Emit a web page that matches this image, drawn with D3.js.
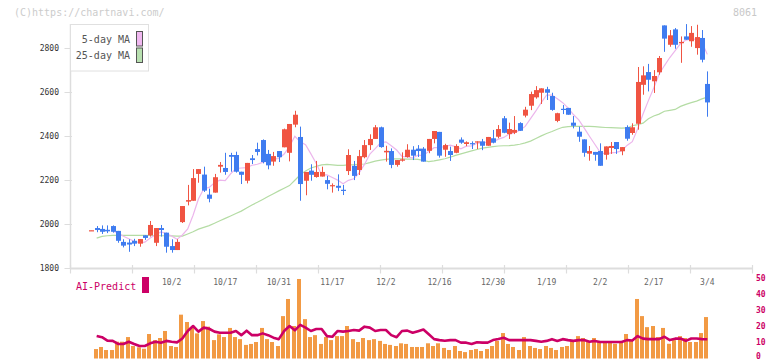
<!DOCTYPE html>
<html><head><meta charset="utf-8">
<script src="https://cdn.jsdelivr.net/npm/d3@7/dist/d3.min.js"></script>
<style>
body{margin:0;background:#fff}
svg{display:block}
text{font-family:"DejaVu Sans Mono","Liberation Mono",monospace}
</style>
</head><body>
<svg id="chart" width="772" height="361"></svg>
<script>
// ---- data ----
const openP  = [1972,1983,1979,1975,1992,1970,1920,1917,1925,1912,1950,1950,1916,1983,1962,1901,1883,2010,2103,2107,2229,2226,2135,2144,2262,2256,2315,2315,2239,2198,2300,2342,2383,2320,2285,2333,2350,2325,2453,2397,2198,2244,2215,2217,2201,2177,2175,2157,2242,2266,2247,2305,2360,2388,2441,2327,2333,2270,2289,2306,2339,2344,2344,2334,2388,2420,2339,2333,2325,2385,2365,2369,2374,2377,2357,2391,2398,2482,2410,2416,2460,2494,2539,2577,2598,2614,2583,2470,2525,2529,2462,2421,2386,2321,2329,2333,2316,2347,2374,2332,2442,2415,2457,2634,2692,2650,2691,2904,2816,2886,2823,2854,2832,2801,2847,2638];
const highP  = [1973,1992,1995,1995,1995,1970,1932,1932,1934,1933,1950,2015,1983,1997,1962,1932,1932,2083,2179,2251,2251,2262,2162,2229,2283,2325,2325,2330,2239,2279,2315,2371,2386,2338,2329,2333,2435,2456,2516,2444,2238,2273,2288,2262,2220,2186,2227,2179,2341,2288,2338,2383,2409,2451,2444,2357,2345,2292,2327,2364,2355,2360,2351,2388,2424,2420,2366,2353,2364,2395,2377,2377,2377,2388,2397,2429,2451,2492,2462,2492,2464,2534,2603,2628,2618,2625,2598,2507,2542,2529,2492,2444,2386,2356,2329,2368,2354,2374,2374,2351,2450,2459,2715,2718,2729,2701,2765,2904,2883,2892,2854,2910,2901,2907,2883,2695];
const lowP   = [1972,1964,1956,1960,1962,1916,1895,1875,1901,1898,1929,1944,1901,1944,1871,1871,1883,2006,2086,2107,2189,2147,2100,2144,2235,2225,2239,2235,2183,2186,2274,2313,2277,2250,2266,2283,2350,2286,2441,2107,2132,2198,2212,2217,2159,2144,2151,2133,2224,2201,2224,2300,2338,2388,2348,2285,2255,2262,2285,2303,2292,2306,2285,2323,2368,2303,2307,2288,2323,2366,2355,2342,2342,2337,2357,2368,2391,2414,2388,2410,2424,2486,2519,2571,2547,2565,2516,2464,2501,2498,2436,2375,2307,2289,2289,2266,2294,2320,2320,2314,2380,2407,2430,2589,2604,2597,2680,2784,2807,2798,2734,2839,2807,2771,2736,2489];
const closeP = [1973,1974,1966,1968,1966,1925,1903,1908,1912,1933,1938,1997,1983,1974,1898,1883,1920,2083,2110,2210,2251,2153,2116,2214,2270,2238,2307,2239,2225,2279,2292,2329,2283,2268,2310,2305,2432,2456,2498,2183,2238,2225,2238,2238,2184,2178,2166,2156,2315,2220,2310,2360,2388,2441,2351,2334,2270,2292,2295,2339,2312,2333,2285,2388,2424,2312,2360,2315,2356,2371,2373,2368,2377,2357,2397,2371,2433,2416,2433,2429,2425,2521,2592,2610,2618,2598,2520,2505,2524,2498,2448,2398,2325,2333,2316,2266,2354,2356,2342,2351,2389,2441,2647,2677,2657,2674,2756,2844,2859,2816,2829,2839,2870,2851,2748,2554];
const ma25 = [null,1937,1945,1948,1950,1950,1950,1950,1950,1950,1950,1949,1949,1948,1948,1947,1946,1946,1956,1966,1978,1986,1994,2005,2016,2027,2038,2049,2060,2074,2088,2100,2113,2126,2139,2152,2164,2176,2200,2225,2242,2256,2263,2270,2272,2270,2268,2268,2270,2271,2273,2274,2280,2287,2292,2295,2297,2297,2297,2296,2296,2295,2290,2285,2288,2293,2298,2305,2313,2320,2327,2334,2340,2346,2350,2353,2356,2357,2358,2360,2364,2370,2378,2390,2402,2413,2422,2432,2441,2444,2445,2445,2445,2445,2444,2442,2440,2439,2438,2437,2438,2448,2453,2460,2480,2492,2501,2514,2518,2522,2536,2545,2553,2560,2570,2578];
const volume = [null,5.9,7.2,5.3,5.3,10.5,10.5,13.4,7.8,7.0,6.1,15.3,11.5,12.8,17.2,7.8,7.2,27.4,22.8,19.5,15.7,23.4,19.9,11.5,15.1,13.4,19.1,13.4,12.1,8.5,9.1,10.3,19.1,12.1,10.3,7.8,26.5,37.2,20.3,49.7,24.6,13.4,14.6,9.1,13.4,11.5,14.0,14.0,20.3,12.1,10.3,12.8,11.5,12.1,11.0,9.1,8.5,7.8,9.5,9.1,7.2,7.2,7.2,9.5,7.8,9.5,6.6,5.3,7.8,4.7,4.0,5.3,5.9,4.7,5.9,7.8,11.0,15.9,9.1,7.2,5.3,13.4,7.8,6.6,5.9,7.8,6.6,5.3,7.2,7.8,11.5,14.0,12.8,10.3,12.8,10.3,10.3,10.3,9.2,10.3,15.3,11.5,37.2,26.5,19.6,20.3,13.4,19.1,9.2,11.5,14.0,12.8,10.3,10.3,15.9,25.9];
const aiPredict = [null,14.1,13.3,11.2,11.0,9.1,9.1,10.5,9.1,7.8,7.8,9.5,10.5,9.9,11.0,10.5,10.1,12.5,17.2,20.3,16.8,19.3,18.6,16.8,16.1,16.1,16.1,17.2,14.6,17.4,14.6,14.6,15.7,14.6,13.0,12.1,17.2,20.3,17.6,21.0,19.3,17.2,18.4,18.4,14.0,13.6,17.2,16.8,17.2,17.8,17.4,19.9,19.3,17.2,17.8,17.8,14.6,13.3,17.2,17.4,16.1,17.1,18.1,15.1,12.1,11.5,11.1,11.5,11.5,9.9,9.9,9.1,10.2,9.9,9.9,11.5,12.2,13.0,11.5,11.5,11.5,11.5,11.5,11.0,10.5,11.0,12.1,11.0,12.1,11.5,11.0,11.5,11.5,10.5,11.0,10.3,10.3,10.3,10.3,10.3,11.5,11.2,14.0,12.4,12.1,12.1,12.1,13.6,11.5,12.4,12.5,11.0,12.5,12.5,12.1,12.0];
const dateLabels = ["10/2","10/17","10/31","11/17","12/2","12/16","12/30","1/19","2/2","2/17","3/4"];
const dateLabelIdx = [15,25,35,45,55,65,75,85,95,105,115];
const priceTicks = [1800,2000,2200,2400,2600,2800];
const subTicks = [0,10,20,30,40,50];
const legendNames = ["5-day MA","25-day MA"];

// ---- derived: 5-day moving average of closes ----
const ma5 = closeP.map((c,i)=> i<4 ? null : d3.mean(closeP.slice(i-4,i+1)));

const svg = d3.select("#chart");
const N = closeP.length;
const x = d3.scaleLinear().domain([0, N-1]).range([91.3, 707.3]);
const y = d3.scaleLinear().domain([1800, 2800]).range([268.3, 48.3]);
const yv = d3.scaleLinear().domain([0, 50]).range([358.5, 278.5]);
const xt = d3.scaleLinear().domain([0, 11]).range([70.5, 752.5]);

const UP="#f05442", DOWN="#3f7cf0", GRID="#dddddd";

// watermark
svg.append("text").attr("x",14).attr("y",16).attr("font-size",10).attr("fill","#cccccc").text("(C)https://chartnavi.com/");
svg.append("text").attr("x",757).attr("y",16).attr("text-anchor","end").attr("font-size",10).attr("fill","#c8c8c8").text("8061");

// axes
svg.append("line").attr("x1",70.5).attr("x2",70.5).attr("y1",24).attr("y2",269).attr("stroke",GRID).attr("stroke-width",1.5);
svg.append("line").attr("x1",70).attr("x2",752.5).attr("y1",268.5).attr("y2",268.5).attr("stroke",GRID).attr("stroke-width",2);
svg.selectAll(".xtk").data(d3.range(0,12)).join("line")
  .attr("x1",d=>xt(d)).attr("x2",d=>xt(d)).attr("y1",265).attr("y2",273.5).attr("stroke",GRID).attr("stroke-width",1.2);
svg.selectAll(".ytk").data(priceTicks).join("line")
  .attr("x1",64.5).attr("x2",72).attr("y1",d=>Math.round(y(d))+0.5).attr("y2",d=>Math.round(y(d))+0.5).attr("stroke",GRID);
svg.selectAll(".ylab").data(priceTicks).join("text")
  .attr("x",59).attr("y",d=>y(d)).attr("dy","0.35em").attr("text-anchor","end")
  .attr("font-size",8).attr("fill","#333").text(d=>d);
svg.selectAll(".xlab").data(dateLabels).join("text")
  .attr("x",(d,i)=>x(dateLabelIdx[i])).attr("y",282.5).attr("dy","0.35em").attr("text-anchor","middle")
  .attr("font-size",8).attr("fill","#666").text(d=>d);

// MA lines
const lineMA = arr => d3.line().defined(d=>d!=null).x((d,i)=>x(i)).y(d=>y(d))(arr);
svg.append("path").attr("d",lineMA(ma25)).attr("fill","none").attr("stroke","#b4dca4").attr("stroke-width",1.2);
svg.append("path").attr("d",lineMA(ma5)).attr("fill","none").attr("stroke","#ecb6ec").attr("stroke-width",1.2);

// candles
const cd = d3.range(N).map(i=>({i,o:openP[i],h:highP[i],l:lowP[i],c:closeP[i]}));
const g = svg.append("g");
g.selectAll(".wick").data(cd).join("line")
  .attr("x1",d=>Math.round(x(d.i))+0.5).attr("x2",d=>Math.round(x(d.i))+0.5)
  .attr("y1",d=>y(d.h)).attr("y2",d=>y(d.l))
  .attr("stroke",d=>d.c>=d.o?UP:DOWN).attr("stroke-width",1);
g.selectAll(".body").data(cd).join("rect")
  .attr("x",d=>Math.round(x(d.i))-2).attr("width",5)
  .attr("y",d=>y(Math.max(d.o,d.c)))
  .attr("height",d=>Math.max(1.2, Math.abs(y(d.o)-y(d.c))))
  .attr("fill",d=>d.c>=d.o?UP:DOWN);

// legend
svg.append("rect").attr("x",70.5).attr("y",24.5).attr("width",78).attr("height",46.5).attr("fill","#fff").attr("stroke","#e0e0e0").attr("stroke-width",1);
const legColors=["#f0b8f0","#b8e0b0"];
legendNames.forEach((n,k)=>{
  svg.append("text").attr("x",130).attr("y",39+k*16.5).attr("dy","0.35em").attr("text-anchor","end")
    .attr("font-size",10).attr("fill","#555").text(n);
  svg.append("rect").attr("x",136.5).attr("y",31.5+k*16.5).attr("width",6).attr("height",14.5)
    .attr("fill",legColors[k]).attr("stroke","#555").attr("stroke-width",1);
});

// lower panel
svg.append("text").attr("x",76).attr("y",286).attr("dy","0.35em").attr("font-size",10).attr("fill","#cc0066").text("AI-Predict");
svg.append("rect").attr("x",142).attr("y",277).attr("width",7).attr("height",16).attr("fill","#cc0066");
svg.selectAll(".vbar").data(volume.map((v,i)=>({v,i})).filter(d=>d.v!=null)).join("rect")
  .attr("x",d=>Math.round(x(d.i))-3).attr("width",4)
  .attr("y",d=>yv(d.v)).attr("height",d=>yv(0)-yv(d.v)).attr("fill","#f29a44");
const aiLine = d3.line().defined(d=>d!=null).x((d,i)=>x(i)).y(d=>yv(d));
svg.append("path").attr("d",aiLine(aiPredict)).attr("fill","none").attr("stroke","#cc0066").attr("stroke-width",2.6).attr("stroke-linejoin","round");
svg.selectAll(".ailab").data(subTicks).join("text")
  .attr("x",756).attr("y",d=>Math.min(yv(d)-0.5, 356)).attr("dy","0.35em").attr("font-size",8).attr("font-weight","bold")
  .attr("fill","#cc0066").text(d=>d);
</script>
</body></html>
